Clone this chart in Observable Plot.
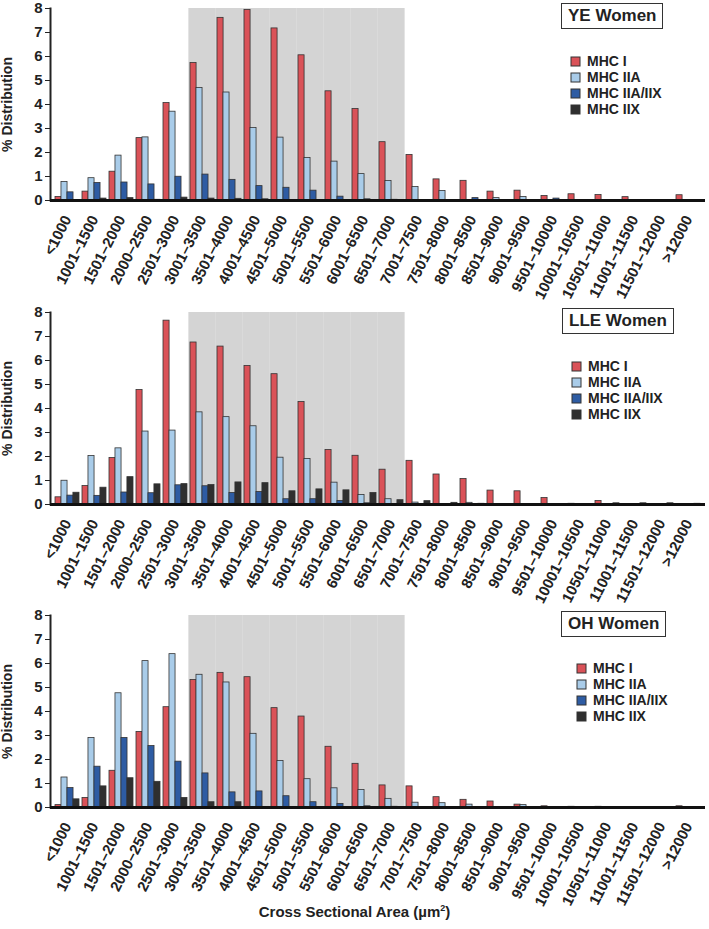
<!DOCTYPE html>
<html>
<head>
<meta charset="utf-8">
<script src="https://cdn.jsdelivr.net/npm/d3@7"></script>
<script src="https://cdn.jsdelivr.net/npm/@observablehq/plot@0.6"></script>
<style>
  body { margin: 0; background: #fff; font-family: "Liberation Sans", Arial, sans-serif; overflow: hidden; }
  .panel { position: relative; width: 709px; }
  .panel > svg { display: block; }
  .tag { position: absolute; border: 1.5px solid #333; font-weight: bold; font-size: 17px;
         line-height: 22px; padding: 1px 6px; color: #222; background: #fff; }
  .legend { position: absolute; }
  .legend svg rect { stroke: #333; stroke-width: 1; }
  #xtitle { width: 709px; text-align: center; font-weight: bold; font-size: 15px; color: #222; line-height: 18px; margin-top: 4px; }
</style>
</head>
<body>
<div id="charts"></div>
<div id="xtitle">Cross Sectional Area (µm<sup style="font-size:9px">2</sup>)</div>
<script>
const categories = ['<1000', '1001–1500', '1501–2000', '2000–2500', '2501–3000', '3001–3500',
  '3501–4000', '4001–4500', '4501–5000', '5001–5500', '5501–6000', '6001–6500', '6501–7000',
  '7001–7500', '7501–8000', '8001–8500', '8501–9000', '9001–9500', '9501–10000',
  '10001–10500', '10501–11000', '11001–11500', '11501–12000', '>12000']

const series = ['MHC I', 'MHC IIA', 'MHC IIA/IIX', 'MHC IIX']
const colors = ['#da5258', '#a9cce9', '#2e5ca3', '#2f2f2f']

// shaded range 3001–3500 .. 6501–7000
const shaded = categories.slice(5, 13)

// YE Women
const yeI     = [0.15, 0.37, 1.2, 2.6, 4.06, 5.73, 7.61, 7.94, 7.17, 6.05, 4.55, 3.81, 2.43, 1.9, 0.88, 0.82, 0.37, 0.41, 0.19, 0.26, 0.23, 0.14, 0, 0.22]
const yeIIA   = [0.77, 0.93, 1.87, 2.63, 3.7, 4.69, 4.5, 3.02, 2.62, 1.77, 1.62, 1.1, 0.81, 0.56, 0.4, 0, 0.1, 0.15, 0, 0, 0, 0, 0, 0]
const yeIIAX  = [0.34, 0.73, 0.75, 0.67, 0.99, 1.08, 0.86, 0.6, 0.53, 0.41, 0.16, 0.05, 0.03, 0.02, 0, 0.1, 0, 0, 0.08, 0, 0, 0, 0, 0]
const yeIIX   = [0, 0.08, 0.1, 0.03, 0.12, 0.08, 0.07, 0.05, 0.02, 0, 0, 0, 0, 0, 0, 0, 0, 0, 0, 0, 0, 0, 0, 0]

// LLE Women
const lleI    = [0.3, 0.77, 1.94, 4.77, 7.66, 6.75, 6.58, 5.77, 5.43, 4.27, 2.27, 2.03, 1.45, 1.82, 1.25, 1.06, 0.58, 0.55, 0.27, 0.03, 0.15, 0.02, 0.02, 0.02]
const lleIIA  = [0.99, 2.02, 2.34, 3.04, 3.08, 3.84, 3.64, 3.26, 1.95, 1.9, 0.91, 0.4, 0.22, 0.08, 0, 0.07, 0, 0, 0, 0, 0, 0, 0, 0]
const lleIIAX = [0.37, 0.36, 0.5, 0.47, 0.8, 0.76, 0.48, 0.52, 0.22, 0.22, 0.15, 0.05, 0, 0, 0, 0, 0.02, 0, 0, 0, 0, 0, 0, 0]
const lleIIX  = [0.49, 0.7, 1.14, 0.84, 0.85, 0.81, 0.92, 0.89, 0.55, 0.63, 0.59, 0.48, 0.18, 0.14, 0.07, 0.03, 0, 0, 0.02, 0, 0.05, 0.05, 0.05, 0.03]

// OH Women
const ohI     = [0.1, 0.4, 1.53, 3.15, 4.18, 5.31, 5.61, 5.43, 4.14, 3.79, 2.53, 1.82, 0.92, 0.88, 0.43, 0.32, 0.25, 0.12, 0.05, 0.03, 0.03, 0.02, 0.02, 0.05]
const ohIIA   = [1.25, 2.9, 4.76, 6.1, 6.39, 5.53, 5.21, 3.07, 1.94, 1.18, 0.8, 0.73, 0.36, 0.2, 0.18, 0.12, 0, 0.1, 0, 0, 0, 0, 0, 0]
const ohIIAX  = [0.81, 1.7, 2.9, 2.56, 1.91, 1.42, 0.63, 0.67, 0.47, 0.22, 0.15, 0.05, 0.03, 0, 0, 0, 0, 0, 0, 0, 0, 0, 0, 0]
const ohIIX   = [0.34, 0.88, 1.22, 1.07, 0.4, 0.22, 0.22, 0, 0, 0, 0, 0, 0, 0, 0, 0, 0, 0, 0, 0, 0, 0, 0, 0]

const yTicks = [0, 1, 2, 3, 4, 5, 6, 7, 8]

const W = 709, ML = 50, MR = 4, PAD = 0.12
const step = (W - ML - MR) / (categories.length - PAD + 2 * PAD)
const bw = step * (1 - PAD)
const font = '"Liberation Sans", Arial, sans-serif'

function panel(title, values, h, tag, leg) {
  const rows = categories.map((c, i) => {
    let r = {cat: c}
    series.forEach((s, j) => r[s] = values[j][i])
    return r
  })

  const chart = Plot.plot({
    width: W,
    height: h,
    marginLeft: ML,
    marginRight: MR,
    marginTop: 8,
    marginBottom: h - 200,
    x: {domain: categories, padding: PAD, axis: null},
    y: {domain: [0, 8]},
    style: {fontFamily: font, fontSize: '14px', fontWeight: 'bold', color: '#222', overflow: 'visible'},
    marks: [
      Plot.barY(shaded, {x: d => d, y: () => 8, fill: '#d4d4d4',
        insetLeft: -step * PAD / 2, insetRight: -step * PAD / 2}),
      ...series.map((s, j) => Plot.barY(rows.filter(r => r[s] > 0), {
        x: 'cat', y: s, fill: colors[j], stroke: '#333', strokeWidth: 0.8,
        insetLeft: j * bw / 4, insetRight: (3 - j) * bw / 4
      })),
      Plot.axisY({ticks: yTicks, tickSize: 5, tickPadding: 3, tickFormat: 'd', label: null, fontSize: 15}),
      Plot.text(['% Distribution'], {frameAnchor: 'left', textAnchor: 'middle', rotate: -90, dx: -43, fill: '#222'}),
      // category labels, rotated
      Plot.text(categories, {x: d => d, y: () => 0, rotate: -63, textAnchor: 'end', lineAnchor: 'middle',
        dy: 16, fontSize: 15, fill: '#222'}),
      Plot.frame({anchor: 'left', strokeWidth: 2}),
      Plot.ruleY([0], {strokeWidth: 3, stroke: '#111'})
    ]
  })

  const div = d3.select('#charts').append('div').attr('class', 'panel').style('height', h + 'px')
  div.append(() => chart)
  div.append('div').attr('class', 'tag').style('left', tag[0] + 'px').style('top', tag[1] + 'px').text(title)

  const legend = Plot.legend({
    color: {domain: series, range: colors},
    legend: 'swatches', columns: 1, swatchSize: 9,
    style: {fontSize: '14px', fontWeight: 'bold', fontFamily: font, color: '#222', lineHeight: '15px'}
  })
  div.append('div').attr('class', 'legend').style('left', leg[0] + 'px').style('top', leg[1] + 'px')
    .append(() => legend)
}

panel('YE Women', [yeI, yeIIA, yeIIAX, yeIIX], 304, [561, 3], [571, 54])
panel('LLE Women', [lleI, lleIIA, lleIIAX, lleIIX], 303, [562, 4], [572, 55])
panel('OH Women', [ohI, ohIIA, ohIIAX, ohIIX], 288, [561, 4], [577, 54])
</script>
</body>
</html>
